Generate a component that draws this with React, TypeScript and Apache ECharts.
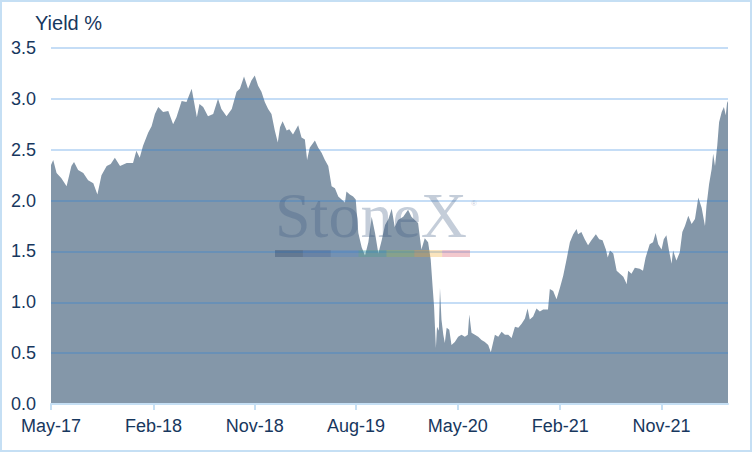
import React, { useEffect, useRef } from 'react';
import * as echarts from 'echarts';

const dates = [
  '2017-05-01','2017-05-07','2017-05-16','2017-05-29','2017-06-12','2017-06-25','2017-07-02','2017-07-13','2017-07-27','2017-08-09',
  '2017-08-23','2017-09-03','2017-09-14','2017-09-28','2017-10-09','2017-10-20','2017-11-03','2017-11-21','2017-12-08','2017-12-17',
  '2017-12-26','2018-01-04','2018-01-18','2018-01-27','2018-02-05','2018-02-14','2018-02-27','2018-03-13','2018-03-26','2018-04-04',
  '2018-04-18','2018-05-01','2018-05-15','2018-05-29','2018-06-05','2018-06-15','2018-06-28','2018-07-12','2018-07-25','2018-08-03',
  '2018-08-17','2018-08-31','2018-09-13','2018-09-22','2018-10-03','2018-10-14','2018-10-23','2018-11-01','2018-11-10','2018-11-19',
  '2018-11-28','2018-12-07','2018-12-16','2018-12-25','2019-01-02','2019-01-08','2019-01-15','2019-01-26','2019-02-02','2019-02-12',
  '2019-02-26','2019-03-07','2019-03-16','2019-03-22','2019-03-29','2019-04-12','2019-04-21','2019-04-30','2019-05-09','2019-05-18',
  '2019-05-27','2019-06-05','2019-06-14','2019-06-23','2019-07-02','2019-07-06','2019-07-15','2019-07-24','2019-07-31','2019-08-07',
  '2019-08-16','2019-08-25','2019-09-03','2019-09-12','2019-09-21','2019-09-30','2019-10-09','2019-10-18','2019-10-27','2019-11-05',
  '2019-11-13','2019-11-22','2019-12-06','2019-12-19','2019-12-28','2020-01-06','2020-01-15','2020-01-24','2020-02-02','2020-02-11',
  '2020-02-18','2020-02-23','2020-02-27','2020-03-03','2020-03-06','2020-03-11','2020-03-14','2020-03-18','2020-03-23','2020-03-27',
  '2020-04-01','2020-04-08','2020-04-14','2020-04-23','2020-05-02','2020-05-11','2020-05-20','2020-05-28','2020-06-01','2020-06-07',
  '2020-06-16','2020-06-25','2020-07-04','2020-07-13','2020-07-22','2020-07-29','2020-08-09','2020-08-18','2020-08-27','2020-09-05',
  '2020-09-14','2020-09-23','2020-10-02','2020-10-11','2020-10-20','2020-10-29','2020-11-05','2020-11-11','2020-11-20','2020-11-29',
  '2020-12-08','2020-12-17','2020-12-30','2021-01-04','2021-01-13','2021-01-22','2021-01-31','2021-02-09','2021-02-18','2021-02-27',
  '2021-03-08','2021-03-17','2021-03-21','2021-03-30','2021-04-08','2021-04-17','2021-04-26','2021-05-08','2021-05-17','2021-05-26',
  '2021-06-04','2021-06-09','2021-06-15','2021-06-24','2021-07-03','2021-07-12','2021-07-21','2021-07-30','2021-08-03','2021-08-12',
  '2021-08-21','2021-09-03','2021-09-12','2021-09-19','2021-09-30','2021-10-09','2021-10-16','2021-10-23','2021-11-01','2021-11-07',
  '2021-11-14','2021-11-21','2021-11-28','2021-12-02','2021-12-11','2021-12-20','2021-12-27','2022-01-03','2022-01-12','2022-01-21',
  '2022-01-30','2022-02-08','2022-02-17','2022-02-26','2022-03-02','2022-03-09','2022-03-16','2022-03-20','2022-03-25','2022-03-31',
  '2022-04-05','2022-04-12','2022-04-18','2022-04-23','2022-04-27','2022-04-29',
];

const yields = [
  2.35, 2.40, 2.27, 2.22, 2.14, 2.34, 2.38, 2.30, 2.27, 2.20,
  2.17, 2.06, 2.25, 2.34, 2.36, 2.42, 2.34, 2.37, 2.37, 2.49,
  2.42, 2.54, 2.67, 2.73, 2.85, 2.92, 2.87, 2.88, 2.75, 2.82,
  2.98, 2.97, 3.10, 2.82, 2.95, 2.92, 2.83, 2.85, 3.00, 2.90,
  2.83, 2.90, 3.07, 3.10, 3.22, 3.10, 3.18, 3.23, 3.13, 3.07,
  2.97, 2.90, 2.85, 2.69, 2.57, 2.72, 2.78, 2.69, 2.70, 2.65,
  2.74, 2.62, 2.60, 2.40, 2.52, 2.59, 2.52, 2.47, 2.40, 2.34,
  2.14, 2.12, 2.04, 2.01, 1.98, 2.09, 2.06, 2.04, 2.01, 1.68,
  1.54, 1.46, 1.59, 1.84, 1.68, 1.48, 1.61, 1.76, 1.82, 1.92,
  1.74, 1.81, 1.84, 1.91, 1.84, 1.81, 1.78, 1.52, 1.63, 1.59,
  1.42, 1.16, 0.96, 0.55, 0.76, 0.72, 1.14, 0.83, 0.68, 0.60,
  0.75, 0.73, 0.58, 0.61, 0.66, 0.68, 0.66, 0.68, 0.88, 0.70,
  0.68, 0.66, 0.63, 0.61, 0.58, 0.51, 0.68, 0.66, 0.71, 0.68,
  0.68, 0.65, 0.76, 0.75, 0.79, 0.84, 0.94, 0.83, 0.86, 0.94,
  0.91, 0.93, 0.93, 1.13, 1.11, 1.03, 1.14, 1.26, 1.42, 1.59,
  1.67, 1.72, 1.67, 1.69, 1.62, 1.56, 1.61, 1.67, 1.62, 1.61,
  1.52, 1.44, 1.51, 1.48, 1.31, 1.28, 1.25, 1.18, 1.31, 1.28,
  1.34, 1.33, 1.31, 1.44, 1.57, 1.59, 1.68, 1.57, 1.52, 1.62,
  1.66, 1.51, 1.38, 1.51, 1.41, 1.49, 1.69, 1.75, 1.85, 1.77,
  1.82, 2.03, 1.93, 1.75, 1.95, 2.16, 2.31, 2.46, 2.34, 2.54,
  2.77, 2.87, 2.92, 2.84, 2.98, 2.96,
];

const tickDates = ['2017-05-01', '2018-02-01', '2018-11-01', '2019-08-01', '2020-05-01', '2021-02-01', '2021-11-01'];
const tickLabels = ['May-17', 'Feb-18', 'Nov-18', 'Aug-19', 'May-20', 'Feb-21', 'Nov-21'];
const axisStart = '2017-05-01';
const axisEnd = '2022-04-29';
const yMin = 0;
const yMax = 3.5;
const yStep = 0.5;
const yTitle = 'Yield %';
const watermark = 'StoneX';
const stripeColors = ['#1b365d', '#2e5597', '#4f86c6', '#3b9c8c', '#8dba4a', '#eea526', '#d74858'];

const TEXT = '#17375E';
const LIGHT = '#C5DFF4';
const FONT = '"Liberation Sans", Arial, sans-serif';

const ts = (s: string) => Date.parse(s + 'T00:00:00Z');

export default function App() {
  const ref = useRef<HTMLDivElement>(null);
  useEffect(() => {
    document.body.style.margin = '0';
    const chart = echarts.init(ref.current!, undefined, { renderer: 'svg' });
    const tickTs = tickDates.map(ts);
    const stripeX0 = 275;
    const stripeW = 195 / stripeColors.length;
    chart.setOption({
      animation: false,
      backgroundColor: '#ffffff',
      grid: { left: 51, right: 24, top: 48, bottom: 48, containLabel: false },
      xAxis: {
        type: 'value',
        min: ts(axisStart),
        max: ts(axisEnd),
        z: 4,
        axisLine: { show: true, lineStyle: { color: LIGHT, width: 2 } },
        axisTick: { show: true, customValues: tickTs, length: 6, lineStyle: { color: LIGHT, width: 2 } },
        axisLabel: {
          customValues: tickTs,
          formatter: (v: number) => {
            let best = -1;
            let bd = Infinity;
            tickTs.forEach((t, i) => {
              const d = Math.abs(t - v);
              if (d < bd) { bd = d; best = i; }
            });
            return bd < 86400000 ? tickLabels[best] : '';
          },
          color: TEXT,
          fontSize: 18,
          fontFamily: FONT,
          margin: 13,
        },
        splitLine: { show: false },
      },
      yAxis: {
        type: 'value',
        min: yMin,
        max: yMax,
        interval: yStep,
        z: 3,
        axisLine: { show: false },
        axisTick: { show: false },
        axisLabel: {
          formatter: (v: number) => v.toFixed(1),
          color: TEXT,
          fontSize: 18,
          fontFamily: FONT,
          margin: 15,
        },
        splitLine: { show: true, lineStyle: { color: 'rgba(30,125,220,0.26)', width: 2 } },
      },
      series: [
        {
          type: 'line',
          data: dates.map((d, i) => [ts(d), yields[i]]),
          symbol: 'none',
          showSymbol: false,
          silent: true,
          z: 2,
          lineStyle: { width: 0, opacity: 0 },
          areaStyle: { color: '#8497A9', opacity: 1 },
        },
      ],
      graphic: [
        {
          type: 'rect',
          silent: true,
          z: 100,
          shape: { x: 1, y: 1, width: 750, height: 450 },
          style: { fill: 'none', stroke: LIGHT, lineWidth: 2 },
        },
        {
          type: 'text',
          z: 100,
          x: 35,
          y: 23,
          style: { text: yTitle, font: `20px ${FONT}`, fill: TEXT, align: 'left', verticalAlign: 'middle' },
        },
        {
          type: 'text',
          z: 50,
          silent: true,
          x: 275,
          y: 215,
          style: { text: watermark, font: '64px "Liberation Serif", "Times New Roman", serif', fill: 'rgba(60,90,130,0.3)', align: 'left', verticalAlign: 'middle' },
        },
        {
          type: 'text',
          z: 50,
          silent: true,
          x: 471,
          y: 203,
          style: { text: '®', font: `8px ${FONT}`, fill: 'rgba(60,90,130,0.3)', align: 'left', verticalAlign: 'middle' },
        },
        ...stripeColors.map((c, i) => ({
          type: 'rect',
          z: 50,
          silent: true,
          shape: { x: stripeX0 + i * stripeW, y: 250, width: stripeW, height: 7 },
          style: { fill: c, opacity: 0.3 },
        })),
      ],
    });
    return () => chart.dispose();
  }, []);
  return <div ref={ref} style={{ width: 752, height: 452 }} />;
}
